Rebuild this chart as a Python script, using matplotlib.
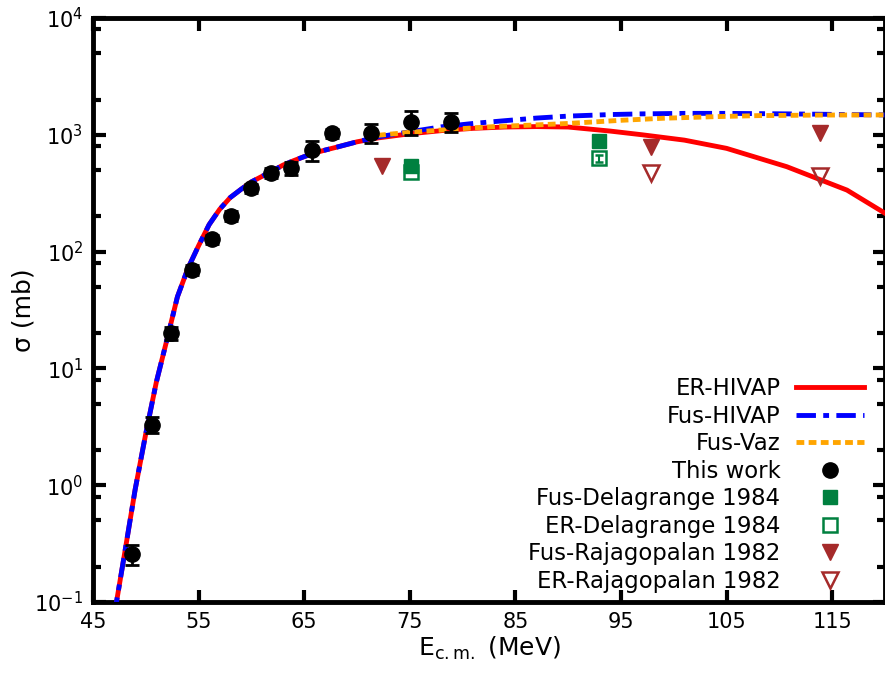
import matplotlib
matplotlib.use("Agg")
import matplotlib.pyplot as plt
from matplotlib.lines import Line2D
from matplotlib.ticker import LogLocator, NullFormatter, FixedLocator

# HIVAP calculations (ER and fusion share the low energy part)
e_hivap = [47, 48, 49, 50, 51, 52, 53, 54, 55, 56, 57, 58, 59, 60, 61, 62, 63, 64,
           65, 66, 67, 68, 70, 72, 75, 78, 81, 84, 87, 90, 94, 97, 101, 105, 110.7,
           116.4, 120]
er_hivap = [0.075, 0.26, 0.92, 2.75, 7.6, 17.5, 41, 72, 112, 170, 230, 290, 340, 395,
            440, 490, 550, 600, 650, 700, 740, 780, 870, 940, 1020, 1085, 1135, 1165,
            1175, 1165, 1075, 1000, 900, 765, 533, 336, 213]
fus_hivap = [0.075, 0.26, 0.92, 2.75, 7.6, 17.5, 41, 72, 112, 170, 230, 290, 340, 395,
             440, 490, 550, 600, 650, 700, 740, 780, 870, 960, 1060, 1170, 1250, 1320,
             1390, 1445, 1490, 1510, 1525, 1525, 1510, 1490, 1479]

# Vaz systematics
e_vaz = [72, 75, 79, 83, 87, 90, 95, 99, 104, 108, 114, 120]
fus_vaz = [990, 1050, 1115, 1175, 1215, 1250, 1330, 1385, 1430, 1459, 1475, 1479]

# this work
e_this = [48.7, 50.6, 52.4, 54.4, 56.3, 58.1, 60.0, 61.9, 63.8, 65.7, 67.6, 71.3, 75.1, 78.9]
sig_this = [0.256, 3.3, 19.9, 69.5, 128, 203, 348, 473, 516, 741, 1035, 1042, 1294, 1294]
err_this = [0.05, 0.5, 2.5, 7, 12, 20, 30, 45, 65, 150, 90, 200, 300, 230]

# Delagrange 1984
e_del = [75.1, 92.9]
fus_del = [536, 891]
er_del = [480, 627]
er_del_err = [0, 45]

# Rajagopalan 1982
e_raj_fus = [72.4, 97.8, 113.85]
fus_raj = [538, 787, 1042]
e_raj_er = [97.8, 113.85]
er_raj = [473, 446]

green = "#00803f"
brown = "#a52a2a"

fig = plt.figure(figsize=(8.85, 6.73), dpi=100)
ax = fig.add_axes([0.105, 0.1055, 0.895, 0.8678])

ax.plot(e_hivap, er_hivap, color="red", lw=3.5, zorder=3)
ax.plot(e_hivap, fus_hivap, color="blue", lw=3.5, dashes=(4, 1.5, 1.2, 1.5), zorder=4)
ax.plot(e_vaz, fus_vaz, color="orange", lw=3.5, dashes=(1.6, 0.9), zorder=5)

ax.errorbar(e_this, sig_this, yerr=err_this, fmt="o", color="black", ms=11,
            elinewidth=2, capsize=5, capthick=2, zorder=8)
ax.errorbar(e_del, er_del, yerr=er_del_err, fmt="s", color=green, mfc="none", ms=10.5,
            mew=1.8, elinewidth=1.5, capsize=3, capthick=1.5, zorder=6)
ax.plot(e_del, fus_del, "s", color=green, ms=10.5, zorder=7)
ax.plot(e_raj_fus, fus_raj, "v", color=brown, ms=11, zorder=6)
ax.plot(e_raj_er, er_raj, "v", color=brown, mfc="none", ms=11, mew=1.8, zorder=6)

ax.set_yscale("log")
ax.set_xlim(45, 120)
ax.set_ylim(0.1, 1e4)
ax.xaxis.set_major_locator(FixedLocator([45, 55, 65, 75, 85, 95, 105, 115]))
ax.yaxis.set_major_locator(LogLocator(base=10, numticks=10))
ax.yaxis.set_minor_locator(LogLocator(base=10, subs=[2, 5, 8], numticks=10))
ax.yaxis.set_minor_formatter(NullFormatter())

ax.tick_params(which="both", direction="in", top=True, right=True, labelsize=15, pad=7)
ax.tick_params(which="major", length=9, width=3)
ax.tick_params(which="minor", length=6, width=3)
for s in ax.spines.values():
    s.set_linewidth(3.5)

ax.set_xlabel(r"E$_{\mathrm{c.m.}}$ (MeV)", fontsize=18, labelpad=2)
ax.set_ylabel("σ (mb)", fontsize=18, labelpad=-1)

handles = [
    Line2D([], [], color="red", lw=3.5),
    Line2D([], [], color="blue", lw=3.5, dashes=(4, 1.5, 1.2, 1.5)),
    Line2D([], [], color="orange", lw=3.5, dashes=(1.6, 0.9)),
    Line2D([], [], ls="none", marker="o", color="black", ms=11),
    Line2D([], [], ls="none", marker="s", color=green, ms=10.5),
    Line2D([], [], ls="none", marker="s", color=green, mfc="none", ms=10.5, mew=1.8),
    Line2D([], [], ls="none", marker="v", color=brown, ms=11),
    Line2D([], [], ls="none", marker="v", color=brown, mfc="none", ms=11, mew=1.8),
]
labels = ["ER-HIVAP", "Fus-HIVAP", "Fus-Vaz", "This work", "Fus-Delagrange 1984",
          "ER-Delagrange 1984", "Fus-Rajagopalan 1982", "ER-Rajagopalan 1982"]
ax.legend(handles, labels, loc="lower right", bbox_to_anchor=(0.985, 0.0),
          frameon=False, markerfirst=False, fontsize=16.4, labelspacing=0.2,
          handlelength=3.0, handletextpad=0.67, borderaxespad=0)

fig.savefig("out.png", dpi=100)
